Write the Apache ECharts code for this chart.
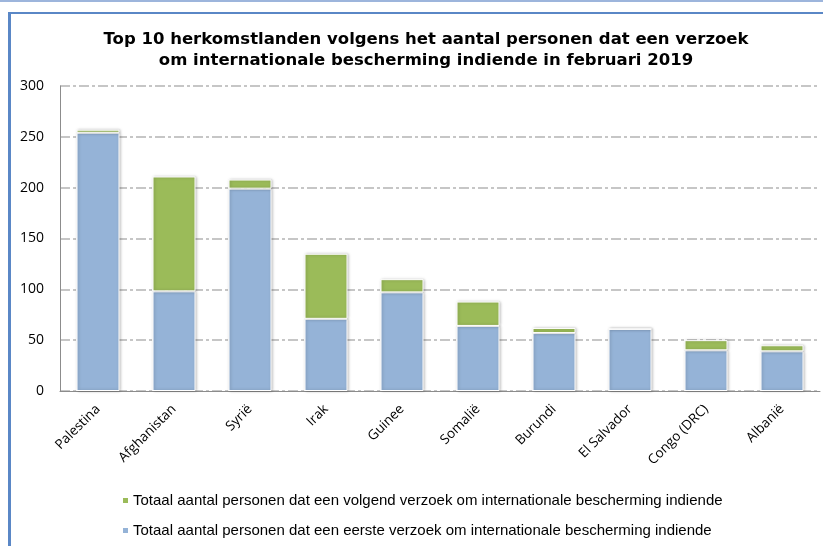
<!DOCTYPE html>
<html>
<head>
<meta charset="utf-8">
<script src="https://cdn.jsdelivr.net/npm/echarts@6/dist/echarts.min.js"></script>
<style>
    html, body { margin: 0; padding: 0; background: #fff; }
    #topline { position: absolute; left: 0; top: 0; width: 823px; height: 2px; background: #9db5dc; }
    #frame { position: absolute; left: 8px; top: 12px; width: 830px; height: 560px;
             border-left: 3px solid #5a87c6; border-top: 2px solid #5a87c6; }
    #chart { position: absolute; left: 0; top: 0; width: 823px; height: 546px; }
</style>
</head>
<body>
<div id="topline"></div>
<div id="frame"></div>
<div id="chart"></div>
<script>
    const categories = ['Palestina', 'Afghanistan', 'Syrië', 'Irak', 'Guinee', 'Somalië', 'Burundi', 'El Salvador', 'Congo (DRC)', 'Albanië'];
    const eersteVerzoek = [254, 98, 199, 71, 97, 64, 57, 61, 40, 39];
    const volgendVerzoek = [3, 113, 9, 64, 13, 24, 5, 0, 10, 6];
    const yTicks = [0, 50, 100, 150, 200, 250, 300];

    const nameVolgend = 'Totaal aantal personen dat een volgend verzoek om internationale bescherming indiende';
    const nameEerste = 'Totaal aantal personen dat een eerste verzoek om internationale bescherming indiende';

    const chart = echarts.init(document.getElementById('chart'));

    // gemeenschappelijke stijl voor de balken
    const barStyle = (color) => ({
        color: color,
        borderColor: '#ffffff',
        borderWidth: 1,
        shadowColor: 'rgba(0, 0, 0, 0.25)',
        shadowBlur: 3,
        shadowOffsetX: 1,
        shadowOffsetY: 0
    });

    const option = {
        animation: false,
        backgroundColor: 'transparent',
        title: {
            text: 'Top 10 herkomstlanden volgens het aantal personen dat een verzoek\nom internationale bescherming indiende in februari 2019',
            left: 421,
            textAlign: 'center',
            top: 24,
            textStyle: {
                fontFamily: 'DejaVu Sans',
                fontWeight: 'bold',
                fontSize: 16.5,
                lineHeight: 21,
                color: '#000'
            }
        },
        legend: {
            orient: 'vertical',
            left: 121,
            top: 490,
            padding: 0,
            itemGap: 9,
            itemWidth: 7,
            itemHeight: 7,
            icon: 'rect',
            data: [nameVolgend, nameEerste],
            textStyle: {
                fontFamily: 'Liberation Sans',
                fontSize: 15,
                lineHeight: 21,
                color: '#000',
                padding: [0, 0, 0, -1]
            }
        },
        grid: {
            left: 60,
            right: 3,
            top: 86,
            bottom: 155
        },
        xAxis: {
            type: 'category',
            data: categories,
            axisLine: { lineStyle: { color: '#8c8c8c', width: 1 } },
            axisTick: { show: false },
            axisLabel: {
                rotate: 45,
                margin: 16,
                fontFamily: 'Open Sans',
                fontSize: 13.5,
                color: '#000'
            }
        },
        yAxis: {
            type: 'value',
            min: yTicks[0],
            max: yTicks[yTicks.length - 1],
            interval: 50,
            axisLine: { show: true, lineStyle: { color: '#8c8c8c', width: 1 } },
            axisTick: { show: false },
            axisLabel: {
                margin: 16,
                fontFamily: 'Open Sans',
                fontSize: 14,
                color: '#000'
            },
            splitLine: {
                lineStyle: {
                    color: '#b4b4b4',
                    width: 1.5,
                    type: [10, 3, 3, 3]
                }
            }
        },
        series: [
            {
                name: nameEerste,
                type: 'bar',
                stack: 'totaal',
                barWidth: 43,
                itemStyle: barStyle('#95b3d7'),
                data: eersteVerzoek
            },
            {
                name: nameVolgend,
                type: 'bar',
                stack: 'totaal',
                barWidth: 43,
                itemStyle: barStyle('#9bbb59'),
                data: volgendVerzoek
            }
        ]
    };

    chart.setOption(option);
</script>
</body>
</html>
